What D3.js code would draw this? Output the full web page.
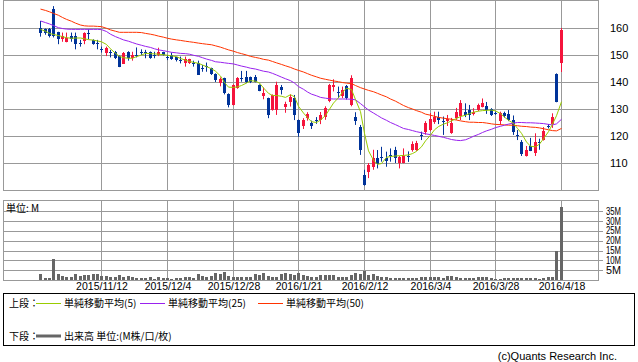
<!DOCTYPE html>
<html>
<head>
<meta charset="utf-8">
<script src="https://cdn.jsdelivr.net/npm/d3@7"></script>
<style>
body { margin: 0; background: #fff; }
svg { display: block; }
text { font-family: "Liberation Sans", Arial, sans-serif; fill: #000; }
.jp { font-family: "Noto Sans CJK JP", "Noto Sans", sans-serif; }
</style>
</head>
<body>
<svg width="638" height="362"></svg>
<script>
const dates = ['2015/10/22','2015/10/23','2015/10/26','2015/10/27','2015/10/28','2015/10/29','2015/10/30','2015/11/2','2015/11/4','2015/11/5',
  '2015/11/6','2015/11/9','2015/11/10','2015/11/11','2015/11/12','2015/11/13','2015/11/16','2015/11/17','2015/11/18','2015/11/19',
  '2015/11/20','2015/11/24','2015/11/25','2015/11/26','2015/11/27','2015/11/30','2015/12/1','2015/12/2','2015/12/3','2015/12/4',
  '2015/12/7','2015/12/8','2015/12/9','2015/12/10','2015/12/11','2015/12/14','2015/12/15','2015/12/16','2015/12/17','2015/12/18',
  '2015/12/21','2015/12/22','2015/12/24','2015/12/25','2015/12/28','2015/12/29','2015/12/30','2016/1/4','2016/1/5','2016/1/6',
  '2016/1/7','2016/1/8','2016/1/12','2016/1/13','2016/1/14','2016/1/15','2016/1/18','2016/1/19','2016/1/20','2016/1/21',
  '2016/1/22','2016/1/25','2016/1/26','2016/1/27','2016/1/28','2016/1/29','2016/2/1','2016/2/2','2016/2/3','2016/2/4',
  '2016/2/5','2016/2/8','2016/2/9','2016/2/10','2016/2/12','2016/2/15','2016/2/16','2016/2/17','2016/2/18','2016/2/19',
  '2016/2/22','2016/2/23','2016/2/24','2016/2/25','2016/2/26','2016/2/29','2016/3/1','2016/3/2','2016/3/3','2016/3/4',
  '2016/3/7','2016/3/8','2016/3/9','2016/3/10','2016/3/11','2016/3/14','2016/3/15','2016/3/16','2016/3/17','2016/3/18',
  '2016/3/22','2016/3/23','2016/3/24','2016/3/25','2016/3/28','2016/3/29','2016/3/30','2016/3/31','2016/4/1','2016/4/4',
  '2016/4/5','2016/4/6','2016/4/7','2016/4/8','2016/4/11','2016/4/12','2016/4/13','2016/4/14','2016/4/15','2016/4/18']

const open = [159.9,159.5,159.5,167.0,158.4,155.8,154.9,157.0,157.0,154.4,
  155.2,158.1,155.6,154.4,152.2,150.6,151.0,151.2,149.6,146.9,
  151.2,148.8,150.1,151.1,151.1,151.0,150.1,150.0,151.0,149.2,
  150.0,149.1,148.2,146.9,146.9,147.0,147.2,145.2,145.8,145.1,
  143.0,139.5,141.4,135.4,131.5,137.7,141.5,141.8,141.8,141.8,
  138.9,134.8,134.0,129.6,129.6,138.0,130.9,132.7,134.2,125.9,
  123.7,126.6,124.7,126.0,125.6,127.0,133.0,138.2,136.2,134.6,
  138.5,131.5,127.2,123.2,105.5,106.8,108.5,111.9,112.4,111.7,
  113.1,114.8,109.9,110.1,112.7,114.8,114.8,120.5,121.2,122.0,
  125.3,127.2,125.4,125.5,121.0,126.6,127.2,129.0,129.6,128.1,
  129.6,130.9,131.2,130.0,128.5,125.3,128.4,128.0,126.0,120.5,
  117.9,112.6,116.3,113.8,117.6,118.5,123.8,124.4,143.0,146.9]
const high = [162.6,159.8,160.0,168.1,158.6,158.3,158.3,158.3,158.3,155.6,
  158.4,159.5,155.8,155.6,153.1,153.1,151.9,151.5,149.8,151.1,
  151.4,151.2,152.8,152.1,151.9,151.3,151.2,152.7,151.2,150.0,
  150.9,149.3,149.4,149.4,148.6,147.9,147.9,146.3,147.2,145.3,
  143.2,141.7,141.6,135.8,139.1,141.8,144.1,144.1,142.0,142.6,
  139.1,138.0,134.2,135.4,140.1,138.9,132.7,135.4,135.2,126.1,
  126.6,128.8,125.7,127.0,128.9,131.0,139.3,141.0,138.3,138.3,
  138.9,142.5,128.8,124.1,107.5,110.0,114.9,114.8,116.0,114.2,
  115.4,116.0,112.6,115.4,114.3,118.0,118.2,121.6,125.5,128.5,
  129.0,129.0,127.2,127.8,126.7,130.4,133.3,132.1,131.5,130.3,
  132.0,133.9,132.6,130.3,129.0,129.0,129.0,129.6,127.6,122.2,
  118.5,116.3,119.3,121.0,119.0,123.3,124.4,128.4,143.2,160.0]
const low = [156.8,157.5,156.5,156.5,154.0,154.9,154.7,154.9,152.1,153.1,
  154.0,155.8,153.8,152.1,150.9,149.6,149.1,148.5,145.5,146.7,
  147.9,147.9,149.1,150.0,148.8,148.6,148.8,149.6,149.8,148.1,
  148.2,147.6,146.9,145.7,146.7,145.7,142.6,143.8,143.8,142.6,
  140.0,138.4,135.4,130.6,131.3,137.5,140.1,139.6,139.6,139.9,
  136.6,133.6,126.6,129.4,127.8,135.4,128.6,130.9,125.9,119.7,
  122.6,125.7,122.6,124.5,124.4,126.0,132.5,136.5,134.0,134.0,
  133.5,131.0,124.1,113.0,101.6,104.4,107.5,108.0,110.5,108.6,
  110.5,110.0,108.0,109.9,110.4,114.2,114.5,118.5,120.5,121.8,
  124.5,124.4,120.4,123.7,120.8,126.0,125.9,127.0,125.9,127.6,
  129.2,130.6,128.2,127.4,127.8,124.1,126.8,125.5,120.4,118.5,
  112.6,112.4,114.4,112.6,114.9,118.3,122.8,123.0,132.5,143.7]
const close = [158.0,158.0,156.8,157.0,155.8,157.0,156.2,155.8,154.0,154.2,
  158.3,157.9,154.0,154.2,152.0,152.5,150.8,148.8,145.7,150.9,
  149.1,150.0,149.9,150.9,150.9,148.8,149.9,151.2,150.0,149.0,
  148.4,147.9,148.0,148.4,148.4,146.8,142.8,145.0,145.6,142.8,
  140.7,141.0,135.8,131.5,138.9,141.4,141.3,139.8,139.8,140.1,
  136.8,136.0,127.8,135.2,138.9,136.8,131.9,134.6,127.8,121.0,
  125.9,128.1,123.7,125.8,127.6,130.5,138.9,138.9,136.0,137.0,
  134.0,141.5,125.7,114.6,101.9,109.3,111.9,109.5,112.2,110.5,
  112.9,111.7,112.3,112.6,112.5,117.0,117.4,120.3,124.7,126.2,
  127.2,126.0,125.2,126.4,124.7,129.0,132.1,127.8,127.8,129.0,
  131.5,132.3,129.7,127.8,128.3,128.4,127.2,125.9,121.6,120.3,
  113.6,114.8,114.6,117.9,117.4,122.0,123.6,126.9,132.7,159.3]
const volume = [3.1,1.2,1.2,10.7,3.1,2.2,1.7,1.7,3.1,2.2,
  2.7,2.7,3.2,2.9,2.2,2.0,1.5,1.7,2.5,1.7,
  1.9,1.5,1.0,1.2,0.9,1.4,0.7,1.7,1.0,1.2,
  0.7,0.9,1.2,1.7,1.4,1.2,3.2,1.9,1.5,2.0,
  3.4,2.9,4.1,2.0,1.4,1.5,1.4,1.4,1.7,2.9,
  2.4,3.4,2.0,1.4,1.7,2.9,3.7,3.1,2.4,3.6,
  2.7,2.2,1.7,1.5,2.6,2.6,2.6,2.6,1.5,1.5,
  1.5,2.6,3.6,3.2,4.8,2.6,3.1,2.0,1.7,1.7,
  1.2,1.2,1.2,1.2,1.2,1.0,1.2,1.4,1.5,1.7,
  1.5,1.4,1.0,1.9,2.2,1.7,1.2,1.0,1.0,1.2,
  1.7,1.4,1.4,0.9,0.7,0.7,0.9,1.0,1.2,0.9,
  0.9,1.2,1.2,0.9,0.7,1.2,1.5,1.7,14.8,37.2]
const ma5 = [159.5,158.8,158.0,157.6,157.2,156.8,156.4,156.2,156.3,156.3,
  156.0,155.7,155.5,155.2,154.9,153.9,152.3,150.6,149.5,149.0,
  148.8,148.8,149.4,150.0,150.6,150.5,150.4,150.3,150.1,149.9,
  149.7,149.4,148.7,148.1,147.6,147.3,146.9,146.3,145.7,144.9,
  144.0,142.2,139.8,138.1,138.0,138.2,138.7,139.6,140.5,140.3,
  139.6,137.8,135.8,135.0,135.0,134.7,134.3,135.3,134.5,131.0,
  128.5,126.8,125.3,125.0,125.9,127.6,129.9,132.2,134.2,136.2,
  137.7,137.2,133.5,129.0,121.0,114.5,111.0,109.5,109.8,112.1,
  112.4,112.6,112.7,112.8,113.0,113.5,114.3,116.0,118.2,120.3,
  122.3,123.5,124.4,124.9,125.6,126.5,127.2,127.7,128.3,128.8,
  129.2,129.4,129.5,129.6,129.3,128.3,127.0,125.8,124.7,122.8,
  121.0,117.8,116.2,116.0,117.0,119.0,121.6,124.4,127.5,132.7]
const ma25 = [162.6,162.0,161.5,160.9,160.1,159.8,159.6,159.5,159.5,159.5,
  159.5,159.5,159.5,159.5,159.4,158.7,157.7,156.8,156.2,155.6,
  155.1,154.6,154.1,153.6,153.2,152.8,152.3,151.9,151.6,151.3,
  151.0,150.8,150.6,150.5,150.3,149.9,149.5,149.0,148.5,148.0,
  147.5,147.3,147.1,146.9,146.7,146.3,145.9,145.5,145.1,144.8,
  144.4,144.0,143.7,143.2,142.6,141.8,141.2,140.5,139.6,138.3,
  137.3,136.3,135.5,134.9,134.3,134.0,133.8,133.7,133.7,133.7,
  133.7,133.6,133.4,132.0,130.8,129.6,128.5,127.6,126.7,125.8,
  125.0,124.2,123.5,122.8,122.4,122.0,121.6,121.2,120.8,120.5,
  120.2,119.9,119.5,119.1,118.7,118.4,118.3,118.6,119.2,119.9,
  120.6,121.3,121.9,122.5,123.1,123.6,124.0,124.4,124.8,125.0,
  125.0,124.9,124.9,124.8,124.7,124.6,124.3,124.1,124.5,126.2]
const ma50 = [167.0,166.5,166.0,165.4,164.7,163.9,163.2,162.5,161.8,161.1,
  160.8,160.7,160.7,160.6,160.5,159.9,159.3,158.8,158.4,158.4,
  158.4,158.4,158.4,158.3,158.0,157.7,157.4,157.0,156.6,156.2,
  155.9,155.6,155.4,155.1,154.9,154.7,154.4,154.2,154.0,153.8,
  153.4,152.9,152.4,151.9,151.4,150.9,150.5,150.0,149.5,149.1,
  148.8,148.4,148.1,147.6,147.1,146.5,146.0,145.4,144.8,144.3,
  143.7,143.1,142.5,141.9,141.4,141.0,140.7,140.4,140.1,139.8,
  139.6,139.4,138.7,137.9,137.4,136.9,136.4,135.8,135.2,134.5,
  133.7,132.9,132.1,131.3,130.5,130.0,129.4,128.8,128.1,127.7,
  127.3,126.9,126.6,126.4,126.2,125.9,125.6,125.3,125.1,125.1,
  125.0,125.0,124.8,124.5,124.3,124.2,124.1,124.0,124.0,123.8,
  123.6,123.5,123.3,123.2,123.0,122.7,122.3,122.0,121.9,122.8]

const dateTicks = ['2015/11/12','2015/12/4','2015/12/28','2016/1/21','2016/2/12','2016/3/4','2016/3/28','2016/4/18']
const priceTicks = [110, 120, 130, 140, 150, 160]
const volumeTicks = [5, 10, 15, 20, 25, 30, 35]

const svg = d3.select('svg')
const gridColor = '#999999'
const upColor = '#f5143c'
const downColor = '#003399'

const x = d3.scaleBand().domain(d3.range(-8, 128)).range([3, 598])
const cx = i => Math.round(x(i) + x.bandwidth() / 2)
const y = d3.scaleLinear().domain([100, 170]).range([190, 1])
const yv = d3.scaleLinear().domain([0, 40.8]).range([280, 200])
const tickIdx = dateTicks.map(d => dates.indexOf(d))
const idx = d3.range(dates.length)

// price panel grid
svg.append('g').selectAll('line')
  .data(priceTicks)
  .join('line')
  .attr('x1', 3).attr('x2', 598)
  .attr('y1', d => Math.round(y(d)) + 0.5).attr('y2', d => Math.round(y(d)) + 0.5)
  .attr('stroke', gridColor)
svg.append('g').selectAll('line')
  .data(tickIdx)
  .join('line')
  .attr('x1', d => cx(d) + 0.5).attr('x2', d => cx(d) + 0.5)
  .attr('y1', 0).attr('y2', 190)
  .attr('stroke', gridColor)
svg.append('rect')
  .attr('x', 3.5).attr('y', 0.5).attr('width', 595).attr('height', 190)
  .attr('fill', 'none').attr('stroke', gridColor)

svg.append('g').selectAll('text')
  .data(priceTicks)
  .join('text')
  .attr('x', 610).attr('y', d => y(d) + 4)
  .attr('font-size', 11)
  .text(d => d)

// candles
const candles = svg.append('g').selectAll('g')
  .data(idx)
  .join('g')
  .attr('fill', i => close[i] >= open[i] ? upColor : downColor)
  .attr('stroke', i => close[i] >= open[i] ? upColor : downColor)
candles.append('line')
  .attr('x1', i => cx(i) + 0.5).attr('x2', i => cx(i) + 0.5)
  .attr('y1', i => y(high[i])).attr('y2', i => y(low[i]))
  .attr('stroke-width', 1)
candles.append('rect')
  .attr('stroke', 'none')
  .attr('x', i => cx(i) - 1)
  .attr('width', 3)
  .attr('y', i => Math.round(y(Math.max(open[i], close[i]))))
  .attr('height', i => Math.max(1, Math.round(Math.abs(y(open[i]) - y(close[i])))))

// moving averages
const line = d3.line().x((d, i) => cx(i) + 0.5).y(d => y(d))
const maDefs = [[ma50, '#ff3300'], [ma25, '#9922ee'], [ma5, '#99cc00']]
maDefs.forEach(([data, color]) => {
  svg.append('path')
    .datum(data)
    .attr('d', line)
    .attr('fill', 'none')
    .attr('stroke', color)
    .attr('stroke-width', 1)
})

// volume panel
svg.append('g').selectAll('line')
  .data(volumeTicks)
  .join('line')
  .attr('x1', 3).attr('x2', 603)
  .attr('y1', d => Math.round(yv(d)) + 0.5).attr('y2', d => Math.round(yv(d)) + 0.5)
  .attr('stroke', gridColor)
svg.append('g').selectAll('line')
  .data(tickIdx)
  .join('line')
  .attr('x1', d => cx(d) + 0.5).attr('x2', d => cx(d) + 0.5)
  .attr('y1', 200).attr('y2', 280)
  .attr('stroke', gridColor)
svg.append('rect')
  .attr('x', 3.5).attr('y', 200.5).attr('width', 595).attr('height', 80)
  .attr('fill', 'none').attr('stroke', gridColor)

svg.append('g').selectAll('rect')
  .data(idx)
  .join('rect')
  .attr('x', i => cx(i) - 1)
  .attr('width', 3)
  .attr('y', i => Math.round(yv(volume[i])))
  .attr('height', i => 280 - Math.round(yv(volume[i])))
  .attr('fill', '#666666')

svg.append('g').selectAll('text')
  .data(volumeTicks)
  .join('text')
  .attr('x', 606).attr('y', d => yv(d) + 3.5)
  .attr('font-size', 10)
  .attr('textLength', 15).attr('lengthAdjust', 'spacingAndGlyphs')
  .text(d => d + 'M')

svg.append('text')
  .attr('class', 'jp')
  .attr('x', 6).attr('y', 212)
  .attr('font-size', 10)
  .text('単位: M')

svg.append('g').selectAll('text')
  .data(tickIdx)
  .join('text')
  .attr('x', d => cx(d) + 1).attr('y', 290)
  .attr('text-anchor', 'middle')
  .attr('font-family', 'DejaVu Sans')
  .attr('font-size', 10.5)
  .text((d, k) => dateTicks[k])

// legend
const legend = svg.append('g')
legend.append('rect')
  .attr('x', 3.5).attr('y', 293.5).attr('width', 631).attr('height', 52)
  .attr('fill', 'none').attr('stroke', '#000')
const legendItems = [
  { x: 36, color: '#99cc00', label: '単純移動平均(5)' },
  { x: 140, color: '#9922ee', label: '単純移動平均(25)' },
  { x: 258, color: '#ff3300', label: '単純移動平均(50)' },
]
legend.append('text').attr('class', 'jp').attr('x', 9).attr('y', 307).attr('font-size', 10).text('上段：')
legendItems.forEach(d => {
  legend.append('line')
    .attr('x1', d.x).attr('x2', d.x + 25).attr('y1', 303.5).attr('y2', 303.5)
    .attr('stroke', d.color)
  legend.append('text').attr('class', 'jp')
    .attr('x', d.x + 28).attr('y', 307).attr('font-size', 10).text(d.label)
})
legend.append('text').attr('class', 'jp').attr('x', 9).attr('y', 340).attr('font-size', 10).text('下段：')
legend.append('line')
  .attr('x1', 36).attr('x2', 61).attr('y1', 336).attr('y2', 336)
  .attr('stroke', '#666666').attr('stroke-width', 3)
legend.append('text').attr('class', 'jp')
  .attr('x', 64).attr('y', 340).attr('font-size', 10).text('出来高 単位:(M株/口/枚)')

svg.append('text')
  .attr('x', 617).attr('y', 360)
  .attr('text-anchor', 'end')
  .attr('font-size', 11)
  .text('(c)Quants Research Inc.')
</script>
</body>
</html>
